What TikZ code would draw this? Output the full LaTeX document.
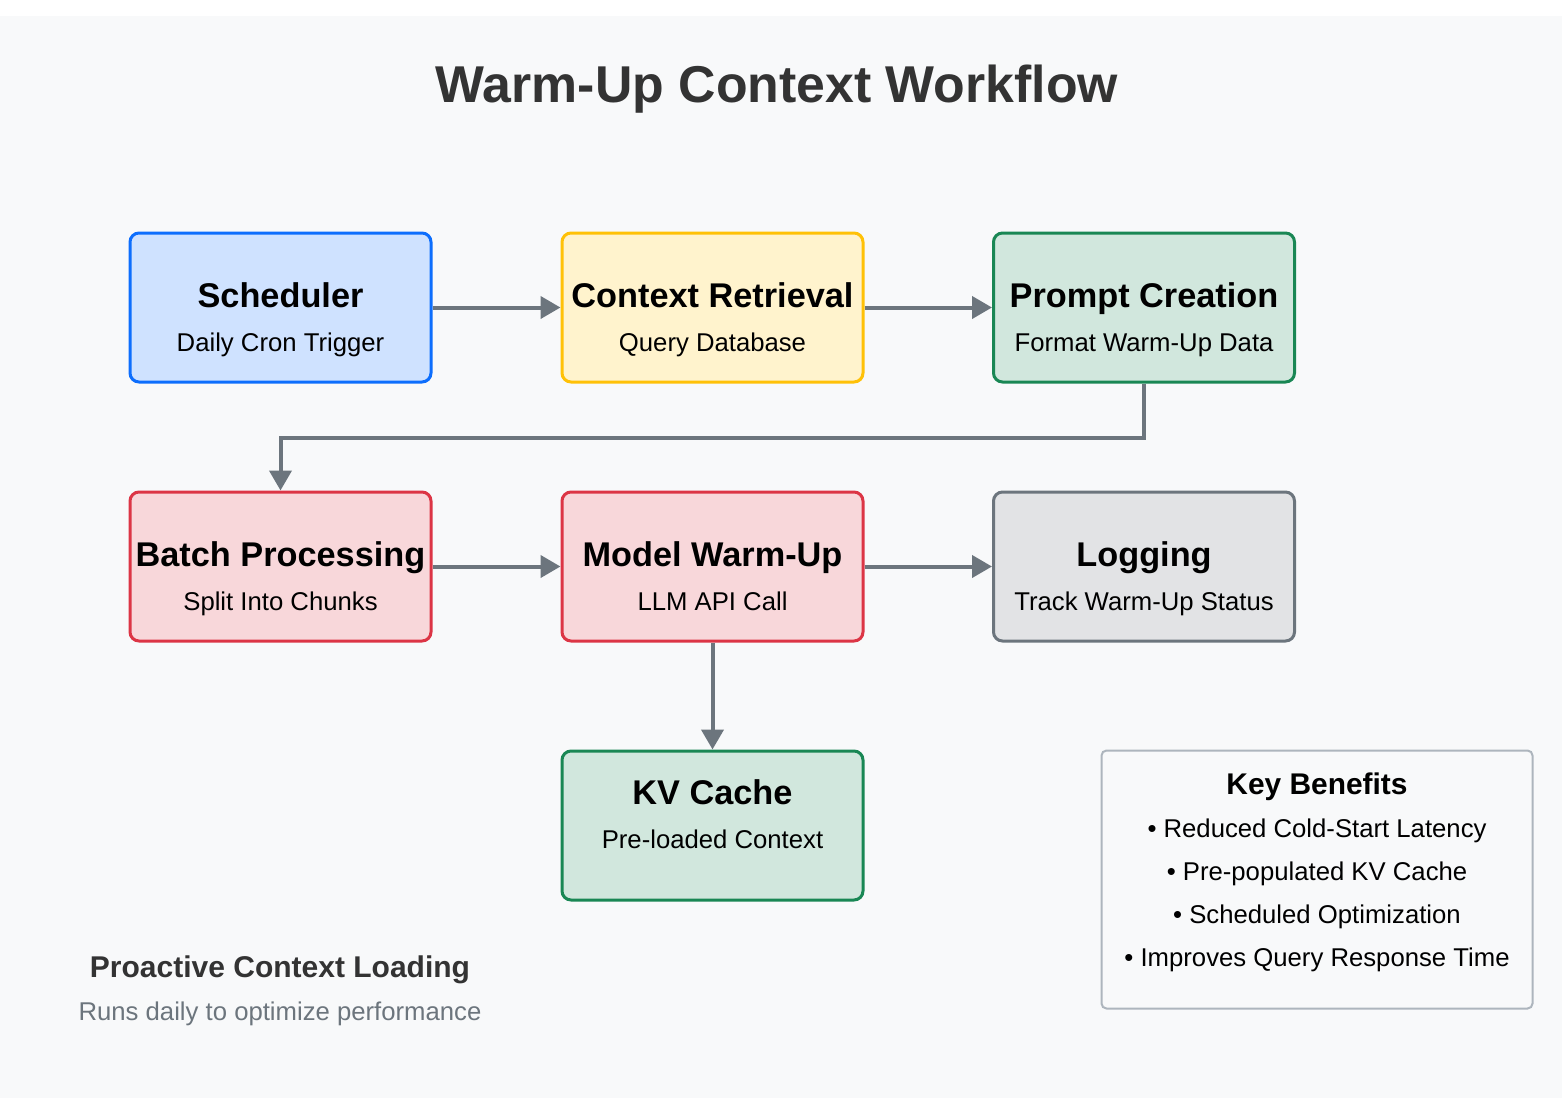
\documentclass[tikz,border=0pt]{standalone}
\usepackage{fontspec}
\setmainfont{Liberation Sans}
\usetikzlibrary{arrows.meta}
\definecolor{bg}{HTML}{F8F9FA}
\definecolor{blueB}{HTML}{0D6EFD}\definecolor{blueF}{HTML}{CFE2FF}
\definecolor{yelB}{HTML}{FFC107}\definecolor{yelF}{HTML}{FFF3CD}
\definecolor{grnB}{HTML}{198754}\definecolor{grnF}{HTML}{D1E7DD}
\definecolor{redB}{HTML}{DC3545}\definecolor{redF}{HTML}{F8D7DA}
\definecolor{gryB}{HTML}{6C757D}\definecolor{gryF}{HTML}{E2E3E5}
\definecolor{arr}{HTML}{6C757D}
\definecolor{legB}{HTML}{ADB5BD}
\definecolor{dark}{HTML}{333333}
\tikzset{
  box/.style={draw, line width=3pt, rounded corners=9pt, minimum width=301pt, minimum height=149pt, inner sep=0pt},
  ttl/.style={anchor=base, font=\bfseries\fontsize{34.3}{40}\selectfont, text=black, inner sep=0pt},
  sub/.style={anchor=base, font=\fontsize{25.7}{30}\selectfont, text=black, inner sep=0pt},
  flow/.style={draw=arr, line width=4pt, -{Triangle[length=20pt,width=22pt]}},
  leg/.style={anchor=base, font=\fontsize{25.7}{30}\selectfont, text=black, inner sep=0pt}
}
\begin{document}
\begin{tikzpicture}[x=1pt,y=-1pt]
\useasboundingbox (0,0) rectangle (1562,1098);
\fill[white] (0,0) rectangle (1562,1098);
\fill[bg] (0,16) rectangle (1562,1098);

\node[anchor=base, font=\bfseries\fontsize{51.8}{60}\selectfont, text=dark, inner sep=0pt] (title) at (777,102) {Warm-Up Context Workflow};

% row 1
\node[box, draw=blueB, fill=blueF] (sched) at (280.5,307.5) {};
\node[box, draw=yelB, fill=yelF] (ctx) at (712.5,307.5) {};
\node[box, draw=grnB, fill=grnF] (prompt) at (1144,307.5) {};
% row 2
\node[box, draw=redB, fill=redF] (batch) at (280.5,566.5) {};
\node[box, draw=redB, fill=redF] (model) at (712.5,566.5) {};
\node[box, draw=gryB, fill=gryF] (log) at (1144,566.5) {};
% row 3
\node[box, draw=grnB, fill=grnF] (kv) at (712.5,825.5) {};

\node[ttl] (schedT) at (280.5,307.5) {Scheduler};
\node[sub] (schedS) at (280.5,351.5) {Daily Cron Trigger};
\node[ttl] (ctxT) at (712.5,307.5) {Context Retrieval};
\node[sub] (ctxS) at (712.5,351.5) {Query Database};
\node[ttl] (promptT) at (1144,307.5) {Prompt Creation};
\node[sub] (promptS) at (1144,351.5) {Format Warm-Up Data};

\node[ttl] (batchT) at (280.5,566.5) {Batch Processing};
\node[sub] (batchS) at (280.5,610.5) {Split Into Chunks};
\node[ttl] (modelT) at (712.5,566.5) {Model Warm-Up};
\node[sub] (modelS) at (712.5,610.5) {LLM API Call};
\node[ttl] (logT) at (1144,566.5) {Logging};
\node[sub] (logS) at (1144,610.5) {Track Warm-Up Status};

\node[ttl] (kvT) at (712.5,804) {KV Cache};
\node[sub] (kvS) at (712.5,848) {Pre-loaded Context};

% connectors
\draw[flow] (sched.east) -- (ctx.west);
\draw[flow] (ctx.east) -- (prompt.west);
\draw[flow] (prompt.south) -- ++(0,54) -| (batch.north);
\draw[flow] (batch.east) -- (model.west);
\draw[flow] (model.east) -- (log.west);
\draw[flow] (model.south) -- (kv.north);

% legend
\node[draw=legB, line width=2pt, fill=bg, rounded corners=5pt, minimum width=431pt, minimum height=258pt, inner sep=0pt] (legend) at (1317,879.5) {};
\node[anchor=base, font=\bfseries\fontsize{29.9}{34}\selectfont, text=black, inner sep=0pt] (legT) at (1317,794) {Key Benefits};
\node[leg] (l1) at (1317,837) {• Reduced Cold-Start Latency};
\node[leg] (l2) at (1317,880) {• Pre-populated KV Cache};
\node[leg] (l3) at (1317,923) {• Scheduled Optimization};
\node[leg] (l4) at (1317,966) {• Improves Query Response Time};

% footer note
\node[anchor=base, font=\bfseries\fontsize{30}{34}\selectfont, text=dark, inner sep=0pt] (noteT) at (280,977) {Proactive Context Loading};
\node[anchor=base, font=\fontsize{25.7}{30}\selectfont, text=arr, inner sep=0pt] (noteS) at (280,1020) {Runs daily to optimize performance};
\end{tikzpicture}
\end{document}
